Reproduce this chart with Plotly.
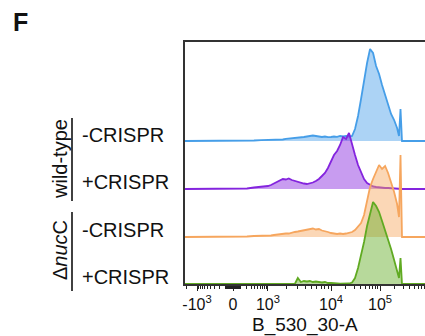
import numpy as np
import plotly.graph_objects as go

# ---------------- data ----------------
# fluorescence (B_530_30-A) bin values shared by all histograms
BIN_VALUES = [-2180, -820, -286, -107, 0, 96, 213, 375, 623, 1000,
              1120, 1250, 1390, 1550, 1730, 1930, 2150, 2400, 2680, 2990,
              3340, 3730, 4160, 4640, 5170, 5770, 6440, 7190, 8020, 8950,
              10000, 11500, 13300, 15300, 17600, 20300, 23300, 26900, 30900, 35600,
              41000, 47200, 54400, 62600, 72100, 83100, 95700, 110000, 127000, 146000,
              168000, 194000, 223000, 244000, 262000, 281000, 828000]

# histogram heights (normalised to mode) for each sample
WT_MINUS = [0, 0, 0, 0, 0, 0, 0.3, 0.5, 0.8, 1,
            1.2, 1, 1.5, 1.8, 1.5, 2.2, 2.5, 2.2, 3, 3.5,
            3.2, 4, 4.5, 5, 5.5, 5, 4.5, 4, 4.5, 3.8,
            4, 4.5, 4.2, 5, 4.5, 5, 4.5, 5, 12, 25,
            42, 62, 78, 92, 88, 75, 67, 56, 46, 35,
            27, 21, 13, 5, 32, 0, 0]
WT_PLUS = [0, 0, 0, 0, 0, 0, 0.5, 1.5, 2, 3,
           4, 5.5, 7, 8, 10, 9.5, 10.5, 9, 8, 7,
           6.5, 5.5, 5, 5.5, 6.5, 8, 10, 13, 16, 21,
           27, 34, 38, 44, 52, 50, 56, 44, 34, 24,
           16, 10, 6, 4, 2.5, 2, 1.5, 1.5, 1, 1,
           0.8, 0.5, 0, 0, 0, 0, 0]
NUC_MINUS = [0, 0, 0, 0, 0, 0, 0.5, 1, 1, 1.5,
             1.5, 2, 2.5, 2.5, 3, 3.5, 3.5, 4.5, 5, 5.5,
             6, 7, 7, 8, 8.5, 7.5, 8, 6.5, 6, 5,
             4, 3.5, 3, 3.5, 3, 3.5, 4, 5, 7, 10,
             14, 22, 36, 50, 58, 66, 72, 68, 71, 64,
             55, 45, 33, 20, 82, 0, 0]
NUC_PLUS = [0, 0, 0, 0, 0, 0, 0, 0, 0, 0,
            0, 0, 0, 0, 0, 0, 0, 0, 0, 6,
            2, 3, 2.5, 3, 2, 2.5, 2, 1.5, 2, 1,
            1, 0.5, 0.5, 0.3, 0.3, 0.5, 0.5, 1.5, 6, 16,
            28, 42, 58, 71, 82, 78, 72, 63, 54, 44,
            35, 24, 12, 6, 26, 0, 0]

SERIES = [WT_MINUS, WT_PLUS, NUC_MINUS, NUC_PLUS]
ROW_LABELS = ["-CRISPR", "+CRISPR", "-CRISPR", "+CRISPR"]
GROUP_LABELS = ["wild-type", "\u0394<i>nuc</i>C"]
MAJOR_TICK_VALUES = [-1000, 0, 1000, 10000, 100000]
MAJOR_TICK_TEXT = ["-10<sup>3</sup>", "0", "10<sup>3</sup>", "10<sup>4</sup>", "10<sup>5</sup>"]
X_TITLE = "B_530_30-A"
PANEL = "F"

# ---------------- styles ----------------
LINE_COLORS = ["rgb(70,158,232)", "rgb(132,36,222)", "rgb(246,166,94)", "rgb(96,170,34)"]
FILL_COLORS = ["rgba(70,158,232,0.45)", "rgba(132,36,222,0.45)",
               "rgba(246,166,94,0.45)", "rgba(96,170,34,0.45)"]
ROW_OFFSET = [143, 95, 47, 0]
FONT = "Liberation Sans, Arial, sans-serif"

W, H = 425, 336
ML, MR, MT, MB = 185, 0, 42, 52

# biexponential-like display scale
ANCHOR_V = np.array([-1000, 0, 1000, 1e4, 1e5], dtype=float)
ANCHOR_D = np.array([-1.0, 0.0, 0.97, 2.722, 4.083])
COF = 200.0


def scale(v):
    g = np.arcsinh(np.asarray(v, dtype=float) / COF)
    ga = np.arcsinh(ANCHOR_V / COF)
    d = np.interp(g, ga, ANCHOR_D)
    lo_s = (ANCHOR_D[1] - ANCHOR_D[0]) / (ga[1] - ga[0])
    hi_s = (ANCHOR_D[-1] - ANCHOR_D[-2]) / (ga[-1] - ga[-2])
    d = np.where(g < ga[0], ANCHOR_D[0] + (g - ga[0]) * lo_s, d)
    d = np.where(g > ga[-1], ANCHOR_D[-1] + (g - ga[-1]) * hi_s, d)
    return d


XR = [float(scale(BIN_VALUES[0])), float(scale(BIN_VALUES[-1]))]
YR = [0, 242]

minor_vals = []
for s in (-1, 1):
    for dec in (10, 100, 1000, 10000, 100000):
        for k in range(1, 10):
            v = s * k * dec
            if v in MAJOR_TICK_VALUES:
                continue
            minor_vals.append(v)
minor_pos = [float(p) for p in scale(minor_vals) if XR[0] <= p <= XR[1]]

fig = go.Figure()
xs = scale(BIN_VALUES)
for i, ser in enumerate(SERIES):
    base = [ROW_OFFSET[i]] * len(BIN_VALUES)
    yv = [ROW_OFFSET[i] + h for h in ser]
    fig.add_trace(go.Scatter(x=xs, y=base, mode="lines", line=dict(width=0),
                             hoverinfo="skip", showlegend=False))
    fig.add_trace(go.Scatter(x=xs, y=yv, mode="lines", fill="tonexty",
                             fillcolor=FILL_COLORS[i],
                             line=dict(color=LINE_COLORS[i], width=1.8),
                             showlegend=False))

pw = W - ML - MR
ph = H - MT - MB


def px(xp):
    return (xp - ML) / pw


def py(yp):
    return (H - MB - yp) / ph


ann = []
ann.append(dict(text=f"<b>{PANEL}</b>", x=px(20), y=py(22), xref="paper", yref="paper",
                showarrow=False, font=dict(size=25, family=FONT, color="#111"),
                xanchor="center", yanchor="middle"))
label_y = [135, 182, 230, 277]
for lab, yy in zip(ROW_LABELS, label_y):
    ann.append(dict(text=lab, x=px(80), y=py(yy), xref="paper", yref="paper",
                    showarrow=False, font=dict(size=20, family=FONT, color="#111"),
                    xanchor="left", yanchor="middle"))
group_y = [159, 250]
for lab, yy in zip(GROUP_LABELS, group_y):
    ann.append(dict(text=lab, x=px(60), y=py(yy), xref="paper", yref="paper",
                    showarrow=False, textangle=-90,
                    font=dict(size=20, family=FONT, color="#111"),
                    xanchor="center", yanchor="middle"))
ann.append(dict(text=X_TITLE, x=px(305), y=py(325), xref="paper", yref="paper",
                showarrow=False, font=dict(size=19, family=FONT, color="#111"),
                xanchor="center", yanchor="middle"))

shapes = []
for y0, y1 in [(118, 201), (212, 291)]:
    shapes.append(dict(type="line", xref="paper", yref="paper",
                       x0=px(72), x1=px(72), y0=py(y0), y1=py(y1),
                       line=dict(color="#111", width=1.6)))

fig.update_layout(
    width=W, height=H,
    margin=dict(l=ML, r=MR, t=MT, b=MB, pad=0),
    paper_bgcolor="white", plot_bgcolor="white",
    showlegend=False,
    annotations=ann, shapes=shapes,
    font=dict(family=FONT, color="#111"),
    xaxis=dict(range=XR, showgrid=False, zeroline=False,
               showline=True, mirror=True, linecolor="#333", linewidth=1.5,
               tickmode="array", tickvals=[float(v) for v in scale(MAJOR_TICK_VALUES)],
               ticktext=MAJOR_TICK_TEXT, ticks="outside", ticklen=5, tickwidth=1.3,
               tickcolor="#222", tickfont=dict(size=16, family=FONT, color="#111"),
               minor=dict(tickmode="array", tickvals=minor_pos, ticks="outside",
                          ticklen=3, tickwidth=1, tickcolor="#222", showgrid=False)),
    yaxis=dict(range=YR, showgrid=False, zeroline=False, showticklabels=False,
               showline=True, linecolor="#333", linewidth=1.5, ticks=""),
)

fig.write_html("out.html", config={"displayModeBar": False},
               post_script="document.body.style.margin='0';")
